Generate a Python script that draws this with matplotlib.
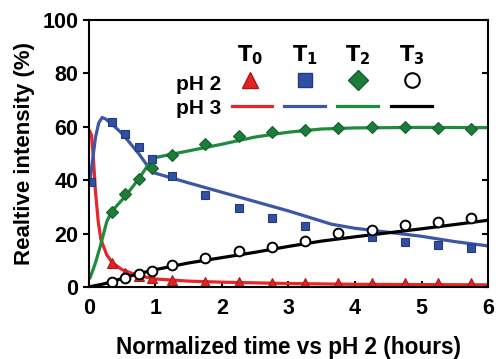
import matplotlib
matplotlib.use("Agg")
import matplotlib.pyplot as plt

plt.rcParams['font.family'] = ['Liberation Sans', 'DejaVu Sans']
plt.rcParams['font.weight'] = 'bold'

# measured points (pH 2)
t_pts = [0.35, 0.55, 0.75, 0.95, 1.25, 1.75, 2.25, 2.75, 3.25, 3.75, 4.25, 4.75, 5.25, 5.75]
T0_pts = [9.0, 5.2, 4.0, 3.2, 2.5, 2.0, 1.8, 1.6, 1.5, 1.5, 1.5, 1.5, 1.4, 1.4]
T1_x = [0.03] + t_pts
T1_pts = [39.5, 62.0, 57.2, 52.4, 47.8, 41.4, 34.5, 29.5, 25.7, 22.9, 20.0, 18.6, 17.0, 15.7, 14.7]
T2_pts = [28.0, 35.0, 40.4, 44.4, 49.4, 53.6, 56.6, 57.9, 59.0, 59.4, 59.8, 59.8, 59.6, 59.3]
T3_pts = [2.0, 3.2, 4.7, 6.0, 8.2, 10.7, 13.5, 15.1, 17.2, 20.1, 21.3, 23.2, 24.5, 25.7]

# fitted curves (pH 3)
T0_x = [0.0, 0.04, 0.07, 0.1, 0.14, 0.18, 0.27, 0.36, 0.5, 0.75, 1.0, 1.5, 2.0, 3.0, 4.0, 5.0, 6.0]
T0_y = [59, 57, 48, 36, 25, 18, 12, 9, 6.5, 4.2, 3.0, 2.2, 1.8, 1.3, 1.0, 0.9, 0.8]
T1_lx = [0.02, 0.06, 0.1, 0.15, 0.2, 0.25, 0.35, 0.5, 0.75, 0.95, 1.5, 2.0, 2.5, 3.0, 3.65, 4.0, 4.5, 5.0, 5.5, 6.0]
T1_ly = [40, 48, 56, 61.5, 63.5, 63, 61, 57.5, 50, 43, 39, 35.5, 32, 28.5, 23.5, 22, 20.5, 19, 17, 15.4]
T2_lx = [0.02, 0.1, 0.17, 0.27, 0.35, 0.55, 0.75, 0.9, 1.0, 1.5, 2.0, 2.5, 3.0, 3.5, 4.0, 5.0, 6.0]
T2_ly = [3.5, 9, 15, 24.5, 28.5, 34, 40.5, 46, 48.5, 51, 53.5, 56.2, 58, 59.2, 59.6, 59.8, 59.7]
T3_lx = [0.0, 0.25, 0.5, 0.75, 1.0, 1.5, 2.0, 2.5, 3.0, 3.5, 4.0, 4.5, 5.0, 5.5, 6.0]
T3_ly = [0.0, 1.3, 3.2, 5.0, 6.5, 9.0, 11.0, 13.0, 15.2, 17.2, 18.8, 20.3, 21.8, 23.4, 25.0]

red, blue, green = '#e8262a', '#3d56a6', '#1e8c3c'

fig = plt.figure(figsize=(4.96, 3.59), dpi=100)
ax = fig.add_axes([0.179, 0.2006, 0.805, 0.7434])

lw = 2.3
ax.plot(T0_x, T0_y, color=red, lw=lw)
ax.plot(T1_lx, T1_ly, color=blue, lw=lw)
ax.plot(T2_lx, T2_ly, color=green, lw=lw)
ax.plot(T3_lx, T3_ly, color='black', lw=lw)

ax.plot(t_pts, T0_pts, '^', ms=7.5, mfc='#e02424', mec='#b01818', mew=0.8, ls='none')
ax.plot(T1_x, T1_pts, 's', ms=6, mfc='#3050a4', mec='#23397a', mew=0.8, ls='none')
ax.plot(t_pts, T2_pts, 'D', ms=6.5, mfc='#1c7c3a', mec='#14602c', mew=0.8, ls='none')
ax.plot(t_pts, T3_pts, 'o', ms=7, mfc='white', mec='black', mew=1.4, ls='none')

ax.set_xlim(0, 6)
ax.set_ylim(0, 100)
ax.set_xticks(range(7))
ax.set_yticks(range(0, 101, 20))
for s in ax.spines.values():
    s.set_linewidth(1.5)
ax.tick_params(axis='y', direction='out', length=4, width=1.5, labelsize=15.5, right=True)
ax.tick_params(axis='x', direction='in', length=4, width=1.5, labelsize=15.5, pad=8)
for t in ax.yaxis.get_ticklines()[1::2]:
    t.set_marker(0)  # right side ticks point inward
ax.set_xlabel('Normalized time vs pH 2 (hours)', fontsize=16.3, fontweight='bold', labelpad=12)
ax.set_ylabel('Realtive intensity (%)', fontsize=16, fontweight='bold', labelpad=5)

# table style legend
tr = ax.transAxes
cols = [0.403, 0.541, 0.674, 0.81]
heads = ['$\\mathbf{T_0}$', '$\\mathbf{T_1}$', '$\\mathbf{T_2}$', '$\\mathbf{T_3}$']
for cx, h in zip(cols, heads):
    ax.text(cx, 0.868, h, transform=tr, ha='center', va='center', fontsize=15)
ax.text(0.333, 0.76, 'pH 2', transform=tr, ha='right', va='center', fontsize=15)
ax.text(0.333, 0.668, 'pH 3', transform=tr, ha='right', va='center', fontsize=15)
ax.plot(cols[0], 0.775, '^', ms=12, mfc='#e02424', mec='#b01818', transform=tr)
ax.plot(cols[1], 0.775, 's', ms=10.5, mfc='#3050a4', mec='#23397a', transform=tr)
ax.plot(cols[2], 0.775, 'D', ms=10.5, mfc='#1c7c3a', mec='#14602c', transform=tr)
ax.plot(cols[3], 0.775, 'o', ms=10.5, mfc='white', mec='black', mew=1.5, transform=tr)
segs = [(0.358, 0.459, red), (0.489, 0.591, blue), (0.622, 0.724, green), (0.757, 0.86, 'black')]
for x0, x1, c in segs:
    ax.plot([x0, x1], [0.68, 0.68], color=c, lw=lw, transform=tr)

fig.savefig('out.png', dpi=100)
